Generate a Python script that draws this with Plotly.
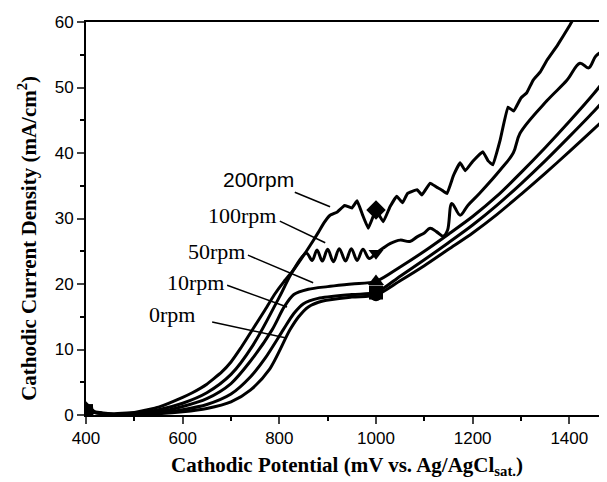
import plotly.graph_objects as go

# ---------------- data ----------------
pot_200 = [400, 450, 500, 550, 600, 620, 650, 680, 700, 720, 745, 770, 790, 810, 828, 845, 856, 870, 880, 892, 905,
           920, 935, 950, 961, 972, 984, 995, 1000,
           1015, 1029, 1043, 1055, 1065, 1085, 1095, 1112, 1125, 1135, 1147, 1160, 1174, 1185, 1200, 1221, 1232,
           1242, 1257, 1273, 1285, 1300, 1312, 1325, 1340, 1354, 1375, 1401, 1420]
cur_200 = [0.6, 0.2, 0.4, 1.2, 2.7, 3.4, 4.7, 6.5, 8.1, 10.2, 13.1, 16.0, 18.4, 20.4, 22.0, 23.8, 25.0, 26.6, 27.8, 29.3, 30.5,
           31.0, 32.0, 31.6, 32.7, 30.6, 28.5, 30.5, 31.3,
           29.5, 31.8, 33.4, 32.4, 33.8, 34.4, 33.6, 35.4, 34.8, 34.4, 33.8, 36.5, 38.5, 37.3, 38.7, 40.2, 38.8,
           38.2, 42.0, 47.0, 46.4, 48.4, 49.2, 51.1, 52.4, 54.2, 56.4, 59.5, 62.0]

pot_100 = [400, 450, 500, 550, 600, 650, 700, 745, 800, 828, 856, 868, 878, 889, 900, 912, 924, 937, 949, 961, 973, 986, 1000,
           1015, 1030, 1050, 1070, 1085, 1100, 1112, 1125, 1139, 1148, 1157, 1174, 1190, 1215, 1257, 1284, 1298,
           1354, 1395, 1422, 1440, 1455, 1478]
cur_100 = [0.6, 0.1, 0.3, 0.8, 1.8, 3.4, 6.2, 10.6, 18.0, 22.0, 24.7, 23.6, 25.2, 23.5, 25.3, 23.4, 25.4, 23.5, 25.4, 23.6, 25.3, 23.9, 24.7,
           25.5, 26.2, 26.7, 26.5, 27.2, 27.8, 28.5, 28.0, 27.3, 28.2, 32.3, 30.5, 32.0, 33.9, 37.4, 40.0, 43.0,
           48.0, 51.1, 53.7, 53.0, 54.8, 56.0]

pot_50 = [400, 450, 500, 550, 600, 650, 700, 740, 785, 810, 830, 860, 900, 950, 1000,
          1050, 1100, 1150, 1200, 1250, 1300, 1350, 1400, 1450, 1478]
cur_50 = [0.6, 0.1, 0.2, 0.5, 1.3, 2.5, 4.8, 8.2, 13.0, 16.5, 18.4, 19.2, 19.6, 20.0, 20.4,
          22.6, 25.0, 27.6, 30.3, 33.4, 37.0, 40.8, 44.8, 49.0, 51.6]

pot_10 = [400, 450, 500, 550, 600, 650, 700, 740, 770, 808, 830, 850, 880, 950, 1000,
          1050, 1100, 1150, 1200, 1250, 1300, 1350, 1400, 1450, 1478]
cur_10 = [0.6, 0.1, 0.1, 0.3, 0.8, 1.6, 3.2, 5.8, 8.6, 13.0, 15.5, 17.0, 17.8, 18.4, 18.7,
          21.2, 23.7, 26.3, 29.0, 32.0, 35.3, 38.8, 42.5, 46.3, 48.6]

pot_0 = [400, 450, 500, 550, 600, 650, 700, 740, 780, 822, 840, 860, 890, 950, 1000,
         1050, 1100, 1150, 1200, 1250, 1300, 1350, 1400, 1450, 1478]
cur_0 = [0.6, 0.1, 0.1, 0.2, 0.5, 1.0, 2.0, 3.8, 7.0, 13.0, 15.0, 16.5, 17.4, 18.0, 18.3,
         20.5, 22.8, 25.3, 27.8, 30.6, 33.7, 36.9, 40.2, 43.6, 45.5]

series_names = ["0rpm", "10rpm", "50rpm", "100rpm", "200rpm"]
series_pot = [pot_0, pot_10, pot_50, pot_100, pot_200]
series_cur = [cur_0, cur_10, cur_50, cur_100, cur_200]
series_symbols = ["circle", "square", "triangle-up", "triangle-down", "diamond"]
marker_potentials = [400, 1000]

x_ticks = [400, 600, 800, 1000, 1200, 1400]
y_ticks = [0, 10, 20, 30, 40, 50, 60]

# ---------------- figure ----------------
fig = go.Figure()
marker_sizes = {"circle": 12, "square": 14, "triangle-up": 14, "triangle-down": 13, "diamond": 15}
smooth = {"0rpm": 0.8, "10rpm": 0.8, "50rpm": 0.8, "100rpm": 1.0, "200rpm": 0.25}
for name, xs, ys, sym in zip(series_names, series_pot, series_cur, series_symbols):
    fig.add_trace(go.Scatter(x=xs, y=ys, mode="lines", name=name,
                             line=dict(color="black", width=3, shape="spline", smoothing=smooth[name]),
                             showlegend=False))
    mx = [p for p in marker_potentials if p in xs]
    my = [ys[xs.index(p)] for p in mx]
    fig.add_trace(go.Scatter(x=mx, y=my, mode="markers", showlegend=False,
                             marker=dict(symbol=sym, color="black", size=marker_sizes[sym])))

serif = "Liberation Serif, Times New Roman, serif"
sans = "Liberation Sans, Arial, sans-serif"
labels = [
    ("200rpm", 756, 35.9, 832, 34.0, 905, 31.8, sans, 21),
    ("100rpm", 723, 30.4, 801, 29.6, 895, 26.3, serif, 22),
    ("50rpm", 671, 25.0, 735, 24.4, 870, 20.2, serif, 22),
    ("10rpm", 626, 20.2, 692, 19.8, 816, 16.5, serif, 22),
    ("0rpm", 578, 15.3, 661, 14.2, 812, 11.8, serif, 22),
]
for t, tx, ty, x0, y0, x1, y1, fam, fs in labels:
    fig.add_annotation(x=tx, y=ty, text=t, showarrow=False,
                       font=dict(family=fam, size=fs, color="black"))
    fig.add_shape(type="line", x0=x0, y0=y0, x1=x1, y1=y1,
                  line=dict(color="black", width=1.5))

fig.add_annotation(xref="paper", yref="paper", x=0.5, y=-0.13, yanchor="middle",
                   text="<b>Cathodic Potential (mV vs. Ag/AgCl<sub>sat.</sub>)</b>",
                   showarrow=False, font=dict(family=serif, size=21, color="black"))
fig.add_annotation(xref="paper", yref="paper", x=-0.112, y=0.45, xanchor="center", yanchor="middle",
                   textangle=-90,
                   text="<b>Cathodic Current Density (mA/cm<sup>2</sup>)</b>",
                   showarrow=False, font=dict(family=serif, size=21, color="black"))

# the page body adds an 8px offset, so the figure is 8px smaller and margins shifted
fig.update_layout(
    width=599, height=474,
    margin=dict(l=78, r=0, t=14, b=67),
    paper_bgcolor="white", plot_bgcolor="white",
    font=dict(family=sans, size=17, color="black"),
    xaxis=dict(range=[400, 1478], tickvals=x_ticks, ticks="outside", ticklen=7, tickwidth=1.5,
               showline=True, linewidth=2, linecolor="black", mirror=True, showgrid=False, zeroline=False,
               automargin=False,
               minor=dict(dtick=100, tick0=400, ticks="outside", ticklen=4, tickwidth=1.5, tickcolor="black"),
               tickfont=dict(family=sans, size=17)),
    yaxis=dict(range=[0, 60], tickvals=y_ticks, ticks="outside", ticklen=7, tickwidth=1.5,
               showline=True, linewidth=2, linecolor="black", showgrid=False, zeroline=False,
               automargin=False,
               minor=dict(dtick=5, tick0=0, ticks="outside", ticklen=4, tickwidth=1.5, tickcolor="black"),
               tickfont=dict(family=sans, size=17)),
)

fig.write_html("out.html")
